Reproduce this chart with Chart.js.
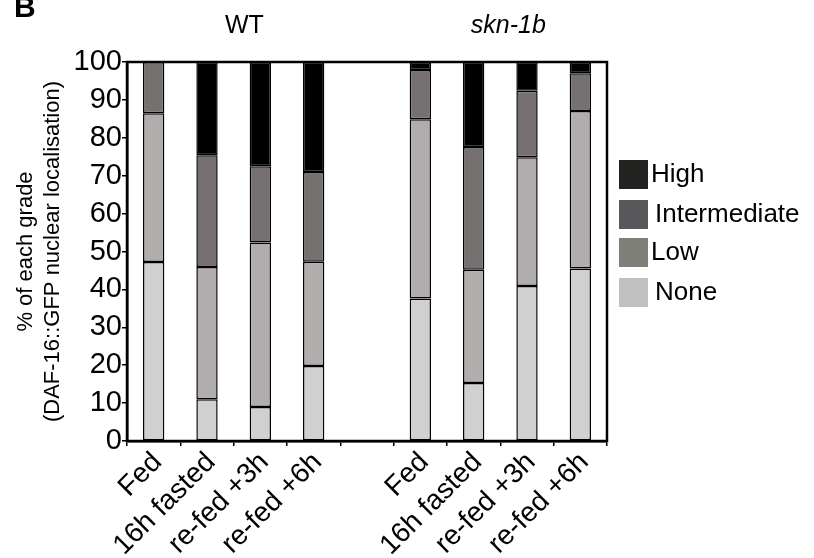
<!DOCTYPE html>
<html lang="en">
<head>
<meta charset="UTF-8">
<title>DAF-16::GFP nuclear localisation</title>
<style>
  html, body { margin: 0; padding: 0; background: #fff; }
  #wrap { width: 814px; height: 558px; }
</style>
</head>
<body>
<div id="wrap"><canvas id="gradeChart" width="814" height="558"></canvas></div>
<script src="https://cdn.jsdelivr.net/npm/chart.js"></script>
<script>
  // categories (empty slot between the two strains)
  const conditions = ['Fed', '16h fasted', 're-fed +3h', 're-fed +6h', '',
                      'Fed', '16h fasted', 're-fed +3h', 're-fed +6h'];
  const strains = ['WT', 'skn-1b'];
  const grades = ['High', 'Intermediate', 'Low', 'None'];

  // % of each grade
  const noneVals         = [47.2, 11.0,  9.0, 19.8, null, 37.6, 15.3, 40.9, 45.5];
  const lowVals          = [39.3, 34.9, 43.4, 27.5, null, 47.3, 29.9, 34.0, 41.6];
  const intermediateVals = [13.5, 29.5, 20.1, 23.7, null, 13.0, 32.4, 17.5,  9.9];
  const highVals         = [ 0.0, 24.6, 27.5, 29.0, null,  2.1, 22.4,  7.6,  3.0];

  const yTicks = [0, 10, 20, 30, 40, 50, 60, 70, 80, 90, 100];

  const font = '"Liberation Sans", Arial, sans-serif';
  // bar fills and the (slightly different) legend swatches
  const barColors = { High: '#000000', Intermediate: '#767170', Low: '#b0adac', None: '#d1d0d1' };
  const legendColors = { High: '#222220', Intermediate: '#58585a', Low: '#80807a', None: '#c0c0c0' };

  function ds(label, data) {
    return {
      label: label,
      data: data,
      backgroundColor: barColors[label],
      borderColor: '#000',
      borderWidth: 1.5,
      borderSkipped: false,
      barPercentage: 0.8,
      categoryPercentage: 0.5
    };
  }

  // frame, headings and legend
  const extras = {
    id: 'extras',
    afterDatasetsDraw(chart) {
      const ctx = chart.ctx;
      const a = chart.chartArea;
      const x = chart.scales.x;
      ctx.save();
      ctx.strokeStyle = '#000';
      ctx.lineWidth = 2.5;
      ctx.strokeRect(a.left, a.top, a.right - a.left, a.bottom - a.top);

      ctx.fillStyle = '#000';
      ctx.textBaseline = 'alphabetic';
      ctx.textAlign = 'left';
      ctx.font = 'bold 30px ' + font;
      ctx.fillText('B', 14, 17);

      ctx.textAlign = 'center';
      ctx.font = '25px ' + font;
      ctx.fillText(strains[0], x.getPixelForValue(1.7), 33);
      ctx.font = 'italic 25px ' + font;
      ctx.fillText(strains[1], x.getPixelForValue(6.65), 33);

      // legend
      ctx.textAlign = 'left';
      ctx.textBaseline = 'middle';
      ctx.font = '26px ' + font;
      const tops = [160, 200, 238, 278];
      const textX = [651, 655, 651, 655];
      grades.forEach((g, i) => {
        ctx.fillStyle = legendColors[g];
        ctx.fillRect(619, tops[i], 29, 29);
        ctx.fillStyle = '#000';
        ctx.fillText(g, textX[i], tops[i] + 15);
      });
      ctx.restore();
    }
  };

  new Chart(document.getElementById('gradeChart'), {
    type: 'bar',
    data: {
      labels: conditions,
      datasets: [
        ds('None', noneVals),
        ds('Low', lowVals),
        ds('Intermediate', intermediateVals),
        ds('High', highVals)
      ]
    },
    plugins: [extras],
    options: {
      responsive: false,
      animation: false,
      layout: { padding: { top: 62, right: 207, left: 0, bottom: 0 } },
      plugins: {
        legend: { display: false },
        tooltip: { enabled: false }
      },
      scales: {
        x: {
          stacked: true,
          grid: {
            offset: true,
            drawOnChartArea: false,
            color: '#000',
            lineWidth: 1.5,
            tickLength: 5
          },
          border: { color: '#000', width: 2.5 },
          ticks: {
            color: '#000',
            font: { family: font, size: 28 },
            minRotation: 45,
            maxRotation: 45,
            autoSkip: false,
            padding: 0,
            labelOffset: 4
          },
          afterFit(scale) { scale.height = 117; }
        },
        y: {
          stacked: true,
          min: 0,
          max: 100,
          afterBuildTicks(scale) { scale.ticks = yTicks.map(v => ({ value: v })); },
          grid: {
            drawOnChartArea: false,
            color: '#000',
            lineWidth: 1.5,
            tickLength: 5
          },
          border: { color: '#000', width: 2.5 },
          ticks: {
            color: '#000',
            font: { family: font, size: 29 },
            padding: 0
          },
          title: {
            display: true,
            text: ['% of each grade', '(DAF-16::GFP nuclear localisation)'],
            color: '#000',
            font: { family: font, size: 22, lineHeight: 1.25 },
            padding: { top: 12, bottom: 0 }
          },
          afterFit(scale) { scale.width = 127; }
        }
      }
    }
  });
</script>
</body>
</html>
